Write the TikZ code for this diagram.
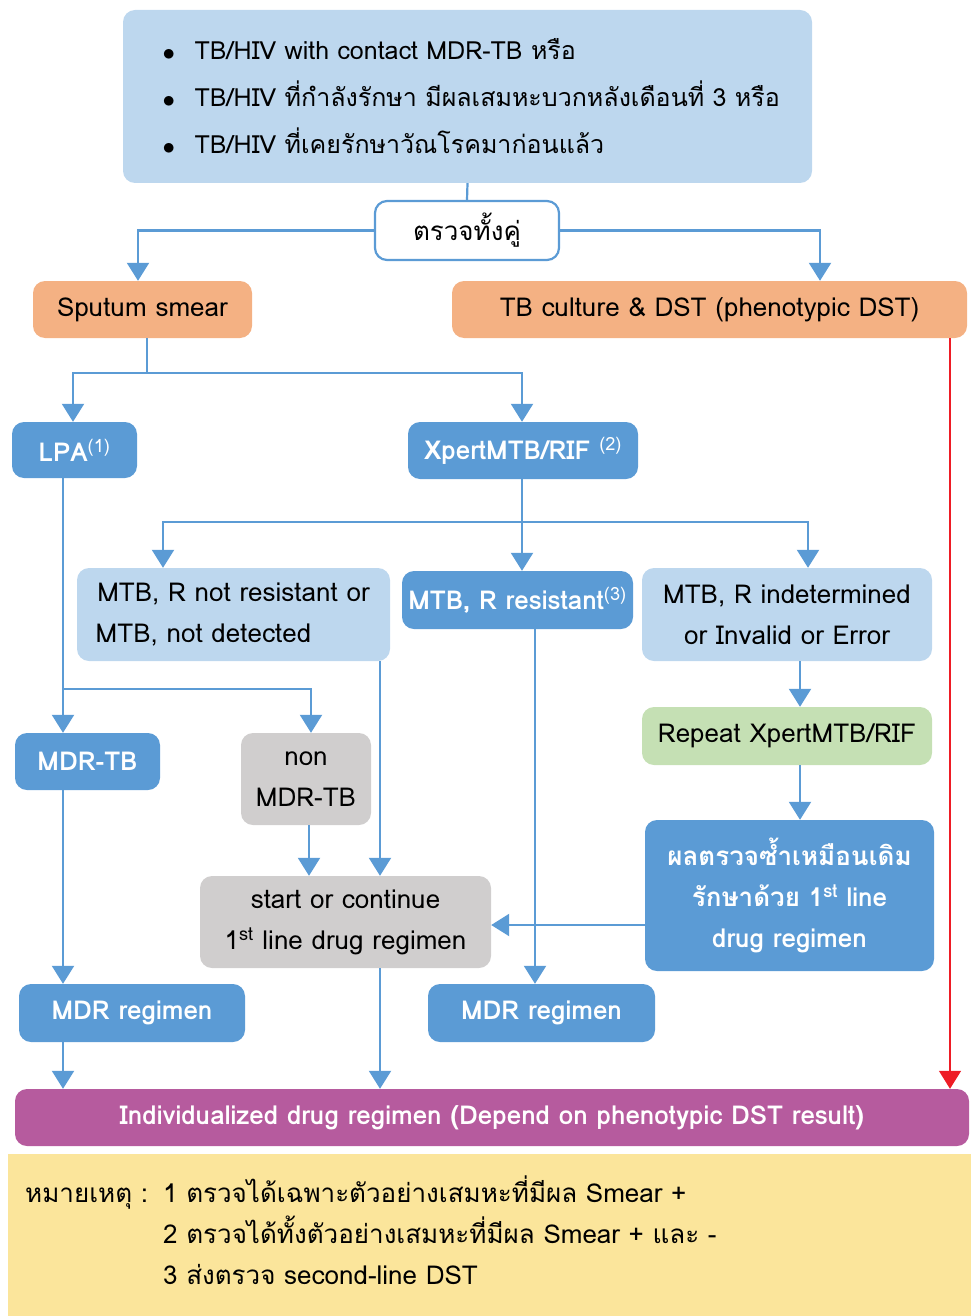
\documentclass[tikz,border=0pt]{standalone}
\usepackage{fontspec}
\setmainfont[Script=Thai]{Loma}
\usetikzlibrary{arrows.meta}

\definecolor{boxlight}{HTML}{BDD7EE}
\definecolor{boxdark}{HTML}{5B9BD5}
\definecolor{boxorange}{HTML}{F4B183}
\definecolor{boxgray}{HTML}{D0CECE}
\definecolor{boxgreen}{HTML}{C5E0B4}
\definecolor{boxpurple}{HTML}{B65B9E}
\definecolor{boxyellow}{HTML}{FBE59B}
\definecolor{linkblue}{HTML}{5B9BD5}
\definecolor{linkred}{HTML}{EE1C25}

\newcommand{\tbbullet}{\makebox[32pt][l]{\fontsize{34}{34}\selectfont\raisebox{-1pt}{$\bullet$}}}

\tikzset{
	box/.style={rounded corners=12pt, inner sep=0pt, align=center, font=\fontsize{26}{41}\selectfont},
	boxsize/.style 2 args={minimum width=#1pt, minimum height=#2pt},
	lightbox/.style={box, fill=boxlight},
	darkbox/.style={box, fill=boxdark, text=white, font=\fontsize{26}{41}\selectfont\bfseries},
	orangebox/.style={box, fill=boxorange},
	graybox/.style={box, fill=boxgray},
	greenbox/.style={box, fill=boxgreen},
	line/.style={draw=linkblue, line width=2.2pt},
	link/.style={line, -{Triangle[width=22pt,length=18pt]}}}

\begin{document}
\begin{tikzpicture}[x=1pt,y=1pt,yscale=-1,xscale=1]
	\useasboundingbox (0,0) rectangle (971,1316);

	%Shape: top box
	\node[lightbox, align=left, text width=640pt, inner xsep=24.5pt, minimum height=173pt, font=\fontsize{25}{47}\selectfont] (top) at (467.5,96.5)
		{\hspace*{15pt}\tbbullet TB/HIV with contact MDR-TB หรือ\\
		 \hspace*{15pt}\tbbullet TB/HIV ที่กำลังรักษา มีผลเสมหะบวกหลังเดือนที่ 3 หรือ\\
		 \hspace*{15pt}\tbbullet TB/HIV ที่เคยรักษาวัณโรคมาก่อนแล้ว};
	%Shape: check both
	\node[box, fill=white, draw=linkblue, line width=2.2pt, boxsize={184}{59}] (check) at (467,230.5) {ตรวจทั้งคู่};
	\node[orangebox, boxsize={219}{57}] (sputum) at (142.5,309.5) {Sputum smear};
	\node[orangebox, boxsize={515}{57}] (culture) at (709.5,309.5) {TB culture \& DST (phenotypic DST)};

	\node[darkbox, boxsize={125}{56}] (lpa) at (74.5,450) {LPA\textsuperscript{\mdseries (1)}};
	\node[darkbox, boxsize={230}{57}] (xpert) at (523,450.5) {XpertMTB/RIF \textsuperscript{\mdseries (2)}};

	\node[lightbox, boxsize={313}{93}] (notres) at (233.5,614.5) {MTB, R not resistant or\\MTB, not detected\hspace*{60pt}};
	\node[darkbox, boxsize={231}{58}] (res) at (517.5,600) {MTB, R resistant\textsuperscript{\mdseries(3)}};
	\node[lightbox, boxsize={290}{93}] (indet) at (787,614.5) {MTB, R indetermined\\or Invalid or Error};

	\node[darkbox, boxsize={145}{57}] (mdrtb) at (87.5,761.5) {MDR-TB};
	\node[graybox, boxsize={130}{92}] (nonmdr) at (306,779) {non\\MDR-TB};
	\node[greenbox, boxsize={290}{58}] (repeat) at (787,736) {Repeat XpertMTB/RIF};
	\node[darkbox, boxsize={289}{151}] (same) at (789.5,895.5) {ผลตรวจซ้ำเหมือนเดิม\\รักษาด้วย 1\textsuperscript{st} line\\drug regimen};
	\node[graybox, boxsize={291}{92}] (start) at (345.5,922) {start or continue\\1\textsuperscript{st} line drug regimen};

	\node[darkbox, boxsize={226}{58}] (mdrreg1) at (132,1013) {MDR regimen};
	\node[darkbox, boxsize={227}{58}] (mdrreg2) at (541.5,1013) {MDR regimen};
	\node[box, fill=boxpurple, text=white, boxsize={954}{57}, font=\fontsize{26}{41}\selectfont\bfseries] (indiv) at (492,1117.5)
		{Individualized drug regimen (Depend on phenotypic DST result)};

	%Shape: note box
	\node[box, rounded corners=0pt, fill=boxyellow, align=left, anchor=north west, text width=929pt, inner xsep=17pt, minimum height=162pt] (note) at (8,1154)
		{\begin{tabular}{@{}p{138pt}@{}l@{}}
		 หมายเหตุ : & 1 ตรวจได้เฉพาะตัวอย่างเสมหะที่มีผล Smear +\\
		  & 2 ตรวจได้ทั้งตัวอย่างเสมหะที่มีผล Smear + และ -\\
		  & 3 ส่งตรวจ second-line DST
		 \end{tabular}};

	%Straight Lines
	\draw[line] (top.south) -- (check.north);
	\draw[link] (check.west) -| ([xshift=-4.5pt]sputum.north);
	\draw[link] (check.east) -| ([xshift=110.5pt]culture.north);
	\draw[line] ([xshift=4.5pt]sputum.south) -- ++(0,35) coordinate (sp);
	\draw[link] (sp) -| ([xshift=-1.5pt]lpa.north);
	\draw[link] (sp) -| ([xshift=-1pt]xpert.north);
	\draw[line] ([xshift=-1pt]xpert.south) -- ++(0,43) coordinate (xp);
	\draw[link] (xp) -| ([xshift=-70.5pt]notres.north);
	\draw[link] (xp) -- (xp |- res.north);
	\draw[link] (xp) -| ([xshift=21pt]indet.north);

	\draw[line] ([xshift=-11.5pt]lpa.south) coordinate (lp) -- (lp |- 0,689) coordinate (lpb);
	\draw[link] (lpb) -- (lp |- mdrtb.north);
	\draw[link] (lpb) -| ([xshift=5pt]nonmdr.north);
	\draw[link] ([xshift=146.5pt]notres.south) coordinate (nr) -- (nr |- start.north);
	\draw[link] ([xshift=3pt]nonmdr.south) coordinate (nm) -- (nm |- start.north);
	\draw[link] ([xshift=17.5pt]res.south) coordinate (rs) -- (rs |- mdrreg2.north);
	\draw[link] ([xshift=13pt]indet.south) coordinate (id) -- (id |- repeat.north);
	\draw[link] ([xshift=13pt]repeat.south) coordinate (rp) -- (rp |- same.north);
	\draw[link] (same.west |- 0,925) -- (start.east |- 0,925);
	\draw[link] ([xshift=-24.5pt]mdrtb.south) coordinate (mt) -- (mt |- mdrreg1.north);
	\draw[link] ([xshift=-69pt]mdrreg1.south) coordinate (m1) -- (m1 |- indiv.north);
	\draw[link] ([xshift=34.5pt]start.south) coordinate (st) -- (st |- indiv.north);
	\draw[link, draw=linkred, line width=1.5pt] ([xshift=240.5pt]culture.south) coordinate (cu) -- (cu |- indiv.north);

\end{tikzpicture}
\end{document}
